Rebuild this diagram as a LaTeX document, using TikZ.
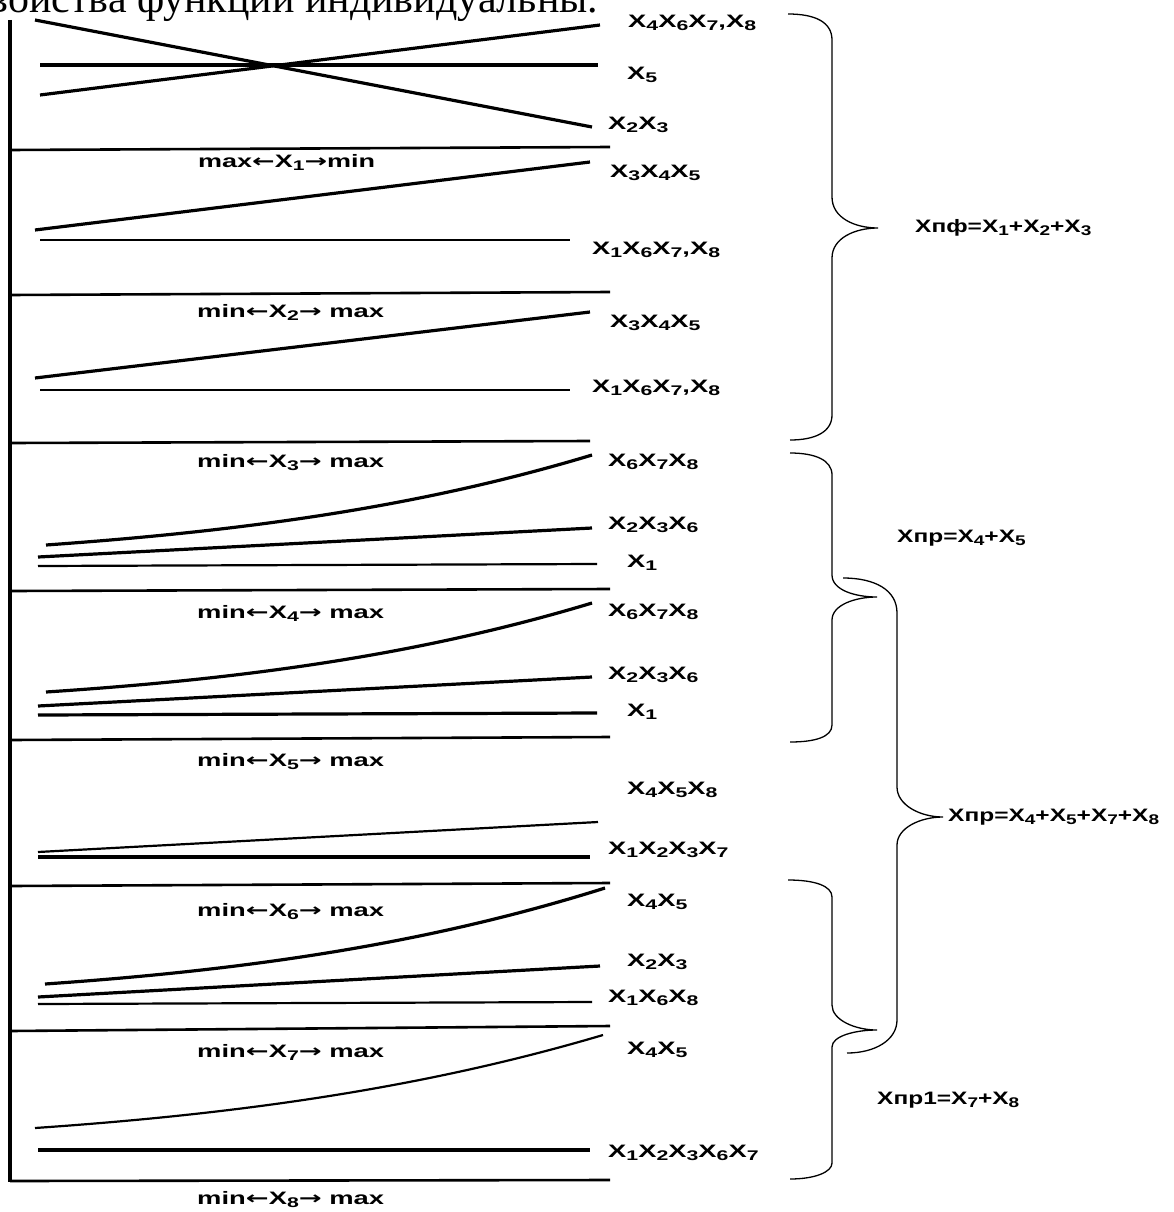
\documentclass[tikz,border=0pt]{standalone}
\usepackage{fontspec}
\setmainfont{Liberation Sans}
\newfontfamily\topserif{Liberation Serif}
\newfontfamily\arrfont{DejaVu Sans}
\usepackage{graphicx}
\newcommand{\xs}[1]{\raisebox{-3pt}{\fontsize{14}{14}\selectfont #1}}
\newcommand{\stret}[1]{\scalebox{1.52}[1]{#1}}
\newcommand{\stretm}[1]{\scalebox{1.52}[1]{#1}}
\newcommand{\stretf}[1]{\scalebox{1.36}[1]{#1}}
\newcommand{\larr}{{\arrfont\bfseries ←}}
\newcommand{\rarr}{{\arrfont\bfseries →}}
\begin{document}
\begin{tikzpicture}[x=1pt,y=-1pt,
  lbl/.style={inner sep=0pt, anchor=west, font=\fontsize{18}{18}\selectfont\bfseries},
  thickline/.style={line width=3.2pt},
  sepline/.style={line width=2.6pt},
  thinline/.style={line width=2.2pt},
  bracepath/.style={line width=1.3pt}
]
\useasboundingbox (0,0) rectangle (1174,1212);
\begin{scope}
\clip (0,0) rectangle (1174,1212);
\node[anchor=base west, inner sep=0pt] (toptext) at (-30,13) {\resizebox{628pt}{!}{\topserif свойства функции индивидуальны.}};
\end{scope}

% axis
\draw[thickline] (10,20) -- (10,1182);

% section 1
\draw[thickline] (35,20) -- (592,127);
\draw[thickline] (40,65) -- (598,65);
\draw[thickline] (40,95) -- (600,25);
\draw[sepline] (10,150) -- (610,147);
\node[lbl] (a1) at (628,23) {\stret{X\xs{4}X\xs{6}X\xs{7},X\xs{8}}};
\node[lbl] (a2) at (627,75) {\stret{X\xs{5}}};
\node[lbl] (a3) at (608,125) {\stret{X\xs{2}X\xs{3}}};
\node[lbl] (m1) at (198,162) {\scalebox{1.5}[1]{max\larr X\xs{1}\rarr min}};

% section 2
\draw[thickline] (35,230) -- (590,162);
\draw[thinline] (40,240) -- (570,240);
\draw[sepline] (10,295) -- (610,292);
\node[lbl] (b1) at (610,173) {\stret{X\xs{3}X\xs{4}X\xs{5}}};
\node[lbl] (b2) at (592,250) {\stret{X\xs{1}X\xs{6}X\xs{7},X\xs{8}}};
\node[lbl] (m2) at (197,312) {\stretm{min\larr X\xs{2}\rarr{} max}};

% section 3
\draw[thickline] (35,378) -- (590,312);
\draw[thinline] (40,390) -- (570,390);
\draw[sepline] (10,443) -- (590,441);
\node[lbl] (c1) at (610,323) {\stret{X\xs{3}X\xs{4}X\xs{5}}};
\node[lbl] (c2) at (592,388) {\stret{X\xs{1}X\xs{6}X\xs{7},X\xs{8}}};
\node[lbl] (m3) at (197,463) {\stretm{min\larr X\xs{3}\rarr{} max}};

% section 4
\draw[thickline] (46,545) .. controls (228,532) and (410,510) .. (592,455);
\draw[thickline] (38,557) -- (592,528);
\draw[thinline] (38,566) -- (597,564);
\draw[sepline] (10,591) -- (610,589);
\node[lbl] (d1) at (608,462) {\stret{X\xs{6}X\xs{7}X\xs{8}}};
\node[lbl] (d2) at (608,525) {\stret{X\xs{2}X\xs{3}X\xs{6}}};
\node[lbl] (d3) at (627,563) {\stret{X\xs{1}}};
\node[lbl] (m4) at (197,613) {\stretm{min\larr X\xs{4}\rarr{} max}};

% section 5
\draw[thickline] (46,692) .. controls (228,680) and (410,658) .. (592,603);
\draw[thickline] (38,706) -- (592,677);
\draw[thickline] (38,715) -- (597,713);
\draw[sepline] (10,740) -- (610,737);
\node[lbl] (e1) at (608,612) {\stret{X\xs{6}X\xs{7}X\xs{8}}};
\node[lbl] (e2) at (608,675) {\stret{X\xs{2}X\xs{3}X\xs{6}}};
\node[lbl] (e3) at (627,712) {\stret{X\xs{1}}};
\node[lbl] (m5) at (197,762) {\stretm{min\larr X\xs{5}\rarr{} max}};

% section 6
\draw[thinline] (38,852) -- (598,822);
\draw[thickline] (38,857) -- (590,857);
\draw[sepline] (10,886) -- (610,883);
\node[lbl] (f1) at (627,790) {\stret{X\xs{4}X\xs{5}X\xs{8}}};
\node[lbl] (f2) at (608,850) {\stret{X\xs{1}X\xs{2}X\xs{3}X\xs{7}}};
\node[lbl] (m6) at (197,912) {\stretm{min\larr X\xs{6}\rarr{} max}};

% section 7
\draw[thickline] (45,984) .. controls (232,971) and (418,947) .. (605,888);
\draw[thickline] (38,997) -- (600,966);
\draw[thinline] (38,1004) -- (592,1002);
\draw[sepline] (10,1031) -- (610,1026);
\node[lbl] (g1) at (627,902) {\stret{X\xs{4}X\xs{5}}};
\node[lbl] (g2) at (627,962) {\stret{X\xs{2}X\xs{3}}};
\node[lbl] (g3) at (608,998) {\stret{X\xs{1}X\xs{6}X\xs{8}}};
\node[lbl] (m7) at (197,1052) {\stretm{min\larr X\xs{7}\rarr{} max}};

% section 8
\draw[thinline] (35,1128) .. controls (224,1115) and (414,1091) .. (603,1035);
\draw[thickline] (38,1150) -- (590,1150);
\draw[sepline] (10,1181) -- (610,1180);
\node[lbl] (h1) at (627,1050) {\stret{X\xs{4}X\xs{5}}};
\node[lbl] (h2) at (608,1153) {\stret{X\xs{1}X\xs{2}X\xs{3}X\xs{6}X\xs{7}}};
\node[lbl] (m8) at (197,1200) {\stretm{min\larr X\xs{8}\rarr{} max}};

% braces
\draw[bracepath] (788,14) .. controls (815,14) and (832,22) .. (832,40) -- (832,197)
  .. controls (832,218) and (855,228) .. (878,228)
  .. controls (855,228) and (832,238) .. (832,258) -- (832,415)
  .. controls (832,432) and (815,440) .. (790,440);
\draw[bracepath] (790,453) .. controls (815,453) and (832,460) .. (832,475) -- (832,575)
  .. controls (832,590) and (855,597) .. (877,597)
  .. controls (855,597) and (832,605) .. (832,620) -- (832,725)
  .. controls (832,737) and (815,742) .. (790,742);
\draw[bracepath] (843,578) .. controls (875,578) and (897,590) .. (897,613) -- (897,787)
  .. controls (897,805) and (920,817) .. (943,817)
  .. controls (920,817) and (897,828) .. (897,845) -- (897,1020)
  .. controls (897,1040) and (875,1053) .. (847,1053);
\draw[bracepath] (788,880) .. controls (815,880) and (832,886) .. (832,897) -- (832,1005)
  .. controls (832,1020) and (855,1030) .. (877,1030)
  .. controls (855,1030) and (832,1036) .. (832,1047) -- (832,1163)
  .. controls (832,1172) and (815,1179) .. (790,1179);

\node[lbl] (s1) at (915,228) {\stretf{Xпф=X\xs{1}+X\xs{2}+X\xs{3}}};
\node[lbl] (s2) at (897,538) {\stretf{Xпр=X\xs{4}+X\xs{5}}};
\node[lbl] (s3) at (948,817) {\stretf{Xпр=X\xs{4}+X\xs{5}+X\xs{7}+X\xs{8}}};
\node[lbl] (s4) at (877,1100) {\stretf{Xпр1=X\xs{7}+X\xs{8}}};
\end{tikzpicture}
\end{document}
